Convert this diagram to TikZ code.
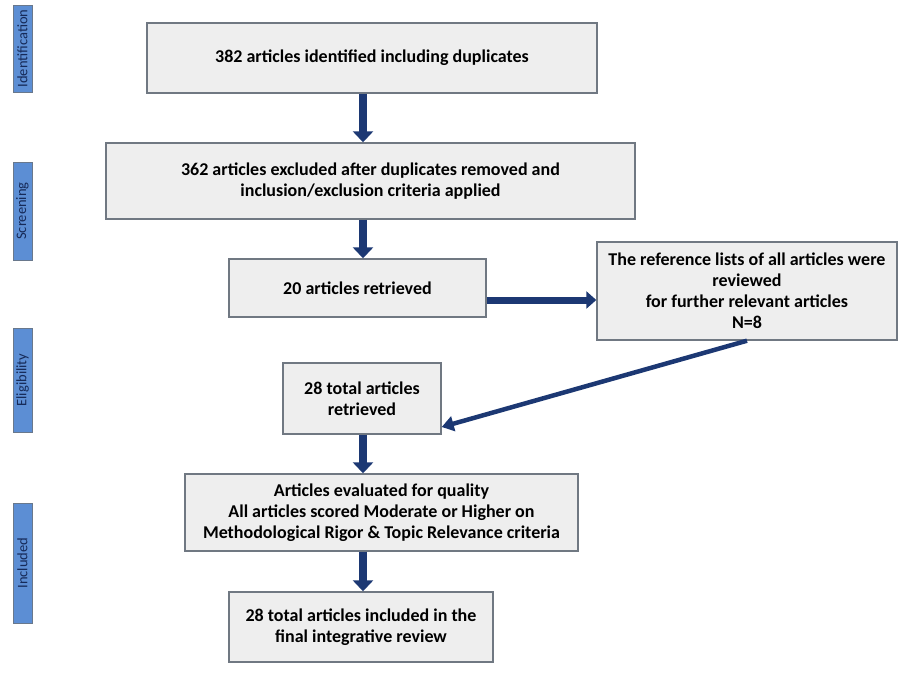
\documentclass[tikz,border=0pt]{standalone}
\usepackage{fontspec}
\setmainfont{Carlito}
\usetikzlibrary{arrows.meta}
\definecolor{boxfill}{RGB}{238,238,238}
\definecolor{boxline}{RGB}{112,120,130}
\definecolor{barfill}{RGB}{92,142,212}
\definecolor{barline}{RGB}{105,120,140}
\definecolor{bartext}{RGB}{22,42,88}
\definecolor{arrcol}{RGB}{28,56,115}
\tikzset{
  box/.style={draw=boxline, fill=boxfill, line width=1.4pt, align=center, inner sep=0pt,
    font=\fontsize{18}{21}\selectfont\bfseries},
  bar/.style={draw=barline, fill=barfill, line width=1pt, inner sep=0pt, minimum height=19pt,
    text=bartext, font=\fontsize{14.5}{16}\selectfont, rotate=90},
  varr/.style={draw=arrcol, line width=7.5pt, -{Triangle[width=20pt,length=11pt]}},
  harr/.style={draw=arrcol, line width=7pt, -{Triangle[width=17pt,length=10pt]}},
  darr/.style={draw=arrcol, line width=4.5pt, -{Triangle[width=15pt,length=12pt]}},
}
\begin{document}
\begin{tikzpicture}[x=1pt,y=-1pt]
\useasboundingbox (0,0) rectangle (914,673);
% side bars
\node[bar, minimum width=87pt]  (s1) at (22.5,48.5) {Identification};
\node[bar, minimum width=98pt]  (s2) at (22.5,211) {Screening};
\node[bar, minimum width=104pt] (s3) at (22.5,380) {Eligibility};
\node[bar, minimum width=120pt] (s4) at (22.5,563) {Included};
% boxes
\node[box, minimum width=450pt, minimum height=70pt] (b1) at (372,58)
  {382 articles identified including duplicates};
\node[box, minimum width=529pt, minimum height=76pt] (b2) at (370.5,181)
  {362 articles excluded after duplicates removed and\\inclusion/exclusion criteria applied};
\node[box, minimum width=257pt, minimum height=58pt] (b3) at (357.5,288)
  {20 articles retrieved};
\node[box, minimum width=300pt, minimum height=98pt] (b4) at (747,291)
  {The reference lists of all articles were\\reviewed\\for further relevant articles\\N=8};
\node[box, minimum width=158pt, minimum height=71pt] (b5) at (362,398.5)
  {28 total articles\\retrieved};
\node[box, minimum width=393pt, minimum height=77pt] (b6) at (381.5,512.5)
  {Articles evaluated for quality\\All articles scored Moderate or Higher on\\Methodological Rigor \& Topic Relevance criteria};
\node[box, minimum width=264pt, minimum height=70pt] (b7) at (361,627)
  {28 total articles included in the\\final integrative review};
% connectors
\coordinate (ax) at (363,0);
\coordinate (hy) at (0,300);
\coordinate (dy) at (0,427);
\draw[varr] (b1.south -| ax) -- (b2.north -| ax);
\draw[varr] (b2.south -| ax) -- (b3.north -| ax);
\draw[harr] (b3.east |- hy) -- (b4.west |- hy);
\draw[darr] (b4.south) -- (b5.east |- dy);
\draw[varr] (b5.south -| ax) -- (b6.north -| ax);
\draw[varr] (b6.south -| ax) -- (b7.north -| ax);
\end{tikzpicture}
\end{document}
